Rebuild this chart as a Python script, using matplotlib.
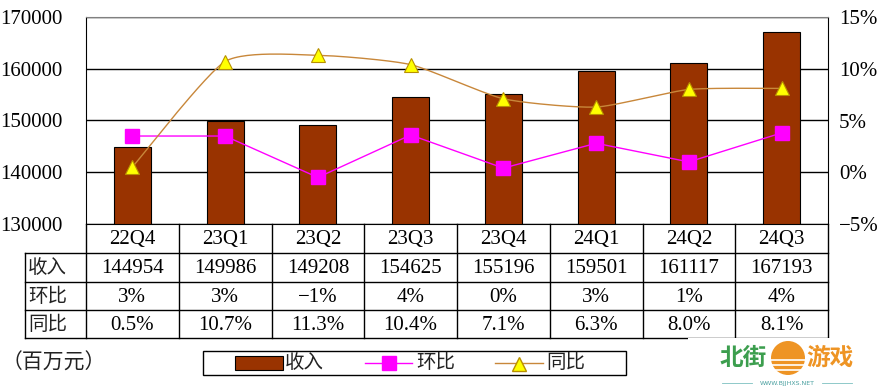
import matplotlib
matplotlib.use('Agg')
import matplotlib.pyplot as plt
import numpy as np
from matplotlib.patches import Rectangle, Circle
from matplotlib.lines import Line2D
from matplotlib.ticker import FuncFormatter
import matplotlib.transforms as mtrans

# ---------------- data ----------------
categories = ['22Q4', '23Q1', '23Q2', '23Q3', '23Q4', '24Q1', '24Q2', '24Q3']
revenue = [144954, 149986, 149208, 154625, 155196, 159501, 161117, 167193]
qoq = [3.5, 3.5, -0.5, 3.6, 0.4, 2.8, 1.0, 3.8]          # 环比 (%)
yoy = [0.5, 10.7, 11.3, 10.4, 7.1, 6.3, 8.0, 8.1]        # 同比 (%)
qoq_labels = ['3%', '3%', '−1%', '4%', '0%', '3%', '1%', '4%']
yoy_labels = ['0.5%', '10.7%', '11.3%', '10.4%', '7.1%', '6.3%', '8.0%', '8.1%']
row_labels = ['收入', '环比', '同比']
left_ticks = [130000, 140000, 150000, 160000, 170000]
right_ticks = [-5, 0, 5, 10, 15]
unit_label = '（百万元）'

# ---------------- style ----------------
plt.rcParams['font.family'] = ['Liberation Serif', 'Noto Sans CJK SC']
BAR = '#993300'
MAG = '#FF00FF'
YOY_LINE = '#C8873A'
YELLOW = '#FFFF00'
FS = 15
CJK_FS = 14

W, H = 887, 388
fig = plt.figure(figsize=(W / 100, H / 100), dpi=100)
L, R, T, B = 86, 828, 17, 224
ax = fig.add_axes([L / W, 1 - B / H, (R - L) / W, (B - T) / H])

def P(x, y):
    """pixel (from top-left) -> inches for dpi_scale_trans"""
    return x / 100.0, (H - y) / 100.0

PT = fig.dpi_scale_trans

x = np.arange(len(categories))
ax.bar(x, revenue, width=0.4, color=BAR, edgecolor='black', linewidth=0.8, zorder=2)
ax.set_xlim(-0.5, len(categories) - 0.5)
ax.set_ylim(left_ticks[0], left_ticks[-1])
ax.set_yticks(left_ticks)
ax.set_xticks([])
ax.yaxis.grid(True, color='black', linewidth=1.0)
ax.set_axisbelow(True)
ax.tick_params(axis='y', length=0, pad=17, labelsize=FS)
for s in ['left', 'right', 'bottom']:
    ax.spines[s].set_color('black')
ax.spines['top'].set_color('#808080')

ax2 = ax.twinx()
ax2.set_ylim(right_ticks[0], right_ticks[-1])
ax2.set_yticks(right_ticks)
ax2.yaxis.set_major_formatter(FuncFormatter(lambda v, p: f"{int(v)}%".replace('-', '−')))
ax2.tick_params(axis='y', length=0, pad=8, labelsize=FS)
for s in ax2.spines.values():
    s.set_visible(False)

# 环比 line (straight)
ax2.plot(x, qoq, color=MAG, linewidth=1.0, marker='s', markersize=10,
         markerfacecolor=MAG, markeredgecolor=MAG, zorder=3)

# 同比 line (lightly smoothed, Excel-like)
def smooth(xs, ys, k=1 / 10.0, n=30):
    pts = np.column_stack([xs, ys]).astype(float)
    out = []
    for i in range(len(pts) - 1):
        p0 = pts[i - 1] if i > 0 else pts[i]
        p1 = pts[i]
        p2 = pts[i + 1]
        p3 = pts[i + 2] if i + 2 < len(pts) else pts[i + 1]
        c1 = p1 + (p2 - p0) * k
        c2 = p2 - (p3 - p1) * k
        t = np.linspace(0, 1, n)[:, None]
        seg = ((1 - t) ** 3) * p1 + 3 * ((1 - t) ** 2) * t * c1 + 3 * (1 - t) * t ** 2 * c2 + t ** 3 * p2
        out.append(seg if i == 0 else seg[1:])
    out = np.vstack(out)
    return out[:, 0], out[:, 1]

sx, sy = smooth(x, yoy)
ax2.plot(sx, sy, color=YOY_LINE, linewidth=1.0, zorder=3)
ax2.plot(x, yoy, linestyle='none', marker='^', markersize=9.5,
         markerfacecolor=YELLOW, markeredgecolor='#B89000', markeredgewidth=0.8, zorder=4)

# ---------------- data table ----------------
col_edges = [L + (R - L) * k / len(categories) for k in range(len(categories) + 1)]
LBL_L = 25
row_y = [224, 253, 282, 310, 338]
lw = 1.0
for yy in row_y[1:]:
    fig.add_artist(Line2D([P(LBL_L, 0)[0], P(R, 0)[0]], [P(0, yy)[1]] * 2,
                          transform=PT, color='black', lw=lw))
for xe in col_edges:
    fig.add_artist(Line2D([P(xe, 0)[0]] * 2, [P(0, 224)[1], P(0, 338)[1]],
                          transform=PT, color='black', lw=lw))
fig.add_artist(Line2D([P(LBL_L, 0)[0]] * 2, [P(0, 253)[1], P(0, 338)[1]],
                      transform=PT, color='black', lw=lw))

blend = mtrans.blended_transform_factory(ax.transData, PT)
def ycen(r):
    return P(0, (row_y[r] + row_y[r + 1]) / 2.0 + 1)[1]

for i in range(len(categories)):
    fig.text(x[i], ycen(0), categories[i], transform=blend, ha='center', va='center', fontsize=FS)
    fig.text(x[i], ycen(1), str(revenue[i]), transform=blend, ha='center', va='center', fontsize=FS)
    fig.text(x[i], ycen(2), qoq_labels[i], transform=blend, ha='center', va='center', fontsize=FS)
    fig.text(x[i], ycen(3), yoy_labels[i], transform=blend, ha='center', va='center', fontsize=FS)
for r, lab in enumerate(row_labels):
    fig.text(P(LBL_L + 3, 0)[0], ycen(r + 1), lab, transform=PT, ha='left', va='center',
             fontsize=CJK_FS, color='#222222')

# unit label
fig.text(*P(2, 364), unit_label, transform=PT, ha='left', va='center', fontsize=15, color='#222222')

# ---------------- legend ----------------
lx0, ly0, lx1, ly1 = 203, 351, 626, 375
fig.add_artist(Rectangle(P(lx0, ly1), (lx1 - lx0) / 100, (ly1 - ly0) / 100, transform=PT,
                         facecolor='white', edgecolor='black', lw=1.0))
ymid = (ly0 + ly1) / 2.0
fig.add_artist(Rectangle(P(235, ymid + 7), 48 / 100, 14 / 100, transform=PT,
                         facecolor=BAR, edgecolor='black', lw=0.8))
fig.text(*P(285, ymid), row_labels[0], transform=PT, ha='left', va='center', fontsize=CJK_FS, color='#222222')
fig.add_artist(Line2D([P(365, 0)[0], P(412, 0)[0]], [P(0, ymid)[1]] * 2, transform=PT, color=MAG, lw=1.0))
fig.add_artist(Line2D([P(389, 0)[0]], [P(0, ymid)[1]], transform=PT, marker='s', markersize=10,
                      color=MAG, linestyle='none'))
fig.text(*P(416, ymid), row_labels[1], transform=PT, ha='left', va='center', fontsize=CJK_FS, color='#222222')
fig.add_artist(Line2D([P(495, 0)[0], P(543, 0)[0]], [P(0, ymid)[1]] * 2, transform=PT, color=YOY_LINE, lw=1.0))
fig.add_artist(Line2D([P(519, 0)[0]], [P(0, ymid + 1)[1]], transform=PT, marker='^', markersize=10,
                      markerfacecolor=YELLOW, markeredgecolor='#B89000', linestyle='none'))
fig.text(*P(546, ymid), row_labels[2], transform=PT, ha='left', va='center', fontsize=CJK_FS, color='#222222')

# ---------------- watermark ----------------
fig.add_artist(Rectangle(P(688, 388), 199 / 100, 50 / 100, transform=PT,
                         facecolor='white', edgecolor='none', zorder=5))
GREEN = '#3C9E4E'
ORANGE = '#EE9424'
fig.text(*P(720, 358), '北街', transform=PT, ha='left', va='center', fontsize=17,
         fontweight='bold', color=GREEN, family='Noto Sans CJK SC', zorder=6)
cx, cy = P(788, 358)
fig.add_artist(Circle((cx, cy), 0.17, transform=PT, facecolor=ORANGE, edgecolor='none', zorder=6))
for dy in [2, 7, 12]:
    fig.add_artist(Line2D([P(770, 0)[0], P(806, 0)[0]], [P(0, 358 + dy)[1]] * 2, transform=PT,
                          color='white', lw=1.2, zorder=7))
fig.text(*P(806, 358), '游戏', transform=PT, ha='left', va='center', fontsize=17,
         fontweight='bold', color=ORANGE, family='Noto Sans CJK SC', zorder=6)
fig.text(*P(787, 383), 'WWW.BJJHXS.NET', transform=PT, ha='center', va='center', fontsize=4.5,
         color='#4AA0A0', family='DejaVu Sans', zorder=6)
for xa, xb in [(722, 752), (822, 852)]:
    fig.add_artist(Line2D([P(xa, 0)[0], P(xb, 0)[0]], [P(0, 383)[1]] * 2, transform=PT,
                          color='#7CC0C0', lw=0.6, zorder=6))

fig.savefig('out.png', dpi=100, facecolor='white')
